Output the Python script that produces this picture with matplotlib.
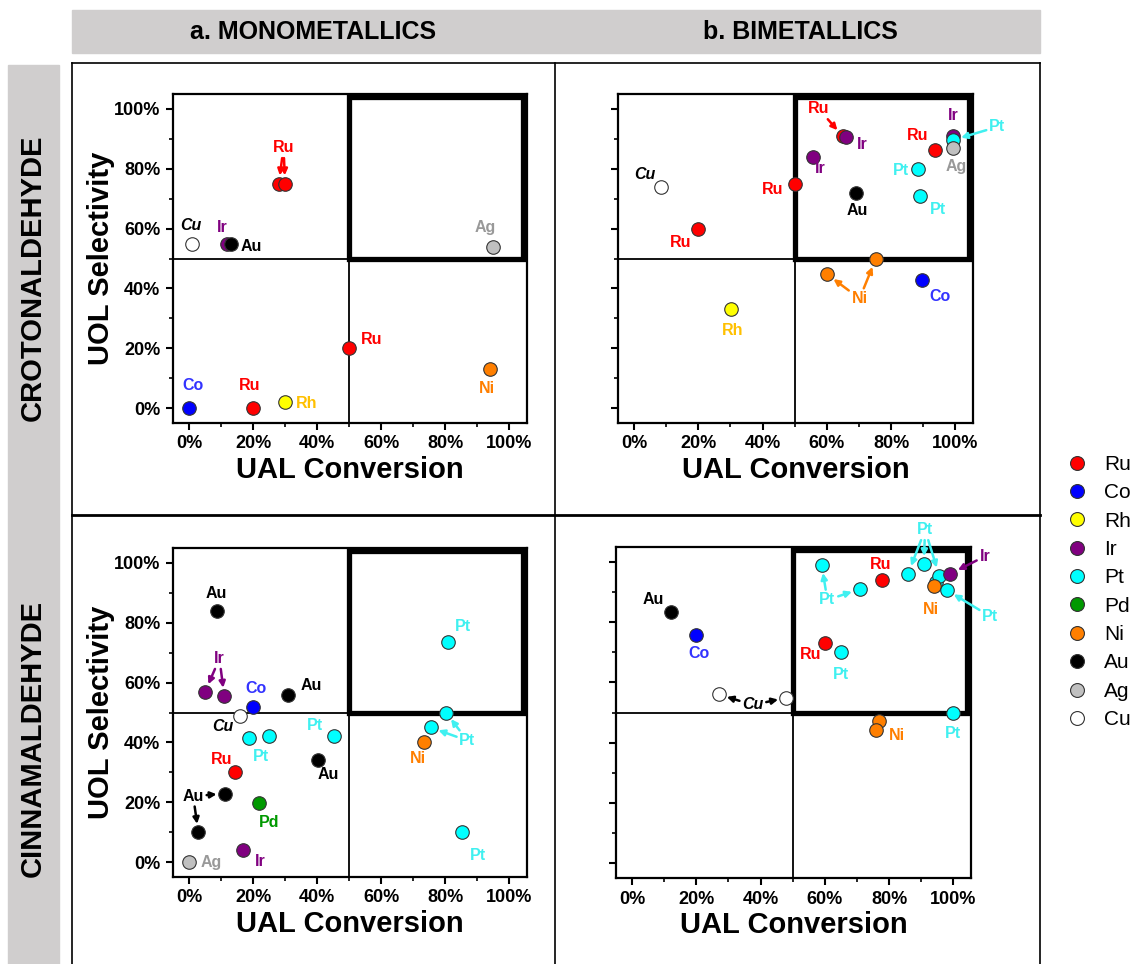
import matplotlib
matplotlib.use('Agg')
import matplotlib.pyplot as plt
from matplotlib.lines import Line2D
from matplotlib.patches import Rectangle

plt.rcParams['font.family'] = ['Liberation Sans', 'DejaVu Sans']

# Metals, legend order
metals = ['Ru', 'Co', 'Rh', 'Ir', 'Pt', 'Pd', 'Ni', 'Au', 'Ag', 'Cu']
face_colors = {'Ru': '#FF0000', 'Co': '#0000FF', 'Rh': '#FFFF00', 'Ir': '#800080',
               'Pt': '#00FFFF', 'Pd': '#009900', 'Ni': '#FF7F00', 'Au': '#000000',
               'Ag': '#C0C0C0', 'Cu': '#FFFFFF'}
text_colors = {'Ru': '#FF0000', 'Co': '#3333FF', 'Rh': '#FFC000', 'Ir': '#800080',
               'Pt': '#40F0F0', 'Pd': '#009900', 'Ni': '#FF7F00', 'Au': '#000000',
               'Ag': '#999999', 'Cu': '#000000'}

# a. monometallics / crotonaldehyde
cro_mono_metal = ['Ru', 'Ru', 'Cu', 'Ir', 'Au', 'Ag', 'Ru', 'Ni', 'Co', 'Ru', 'Rh']
cro_mono_conv = [28, 30, 1, 12, 13, 95, 50, 94, 0, 20, 30]
cro_mono_sel = [75, 75, 55, 55, 55, 54, 20, 13, 0, 0, 2]

# b. bimetallics / crotonaldehyde
cro_bi_metal = ['Cu', 'Ru', 'Ru', 'Ru', 'Ir', 'Ir', 'Au', 'Pt', 'Pt', 'Ru', 'Ir', 'Pt',
                'Ag', 'Ni', 'Ni', 'Co', 'Rh']
cro_bi_conv = [8.4, 20, 50.2, 65, 66, 55.7, 69, 88.4, 88.9, 93.7, 99.3, 99.3, 99.2,
               60, 75.2, 89.5, 30.1]
cro_bi_sel = [73.8, 59.8, 74.8, 90.8, 90.5, 84.1, 72, 80, 71, 86.4, 90.8, 89.6, 86.9,
              44.8, 49.8, 42.7, 33.2]

# a. monometallics / cinnamaldehyde
cin_mono_metal = ['Au', 'Ir', 'Ir', 'Co', 'Au', 'Cu', 'Pt', 'Pt', 'Pt', 'Au', 'Ru', 'Au',
                  'Au', 'Pd', 'Ir', 'Ag', 'Pt', 'Pt', 'Pt', 'Ni', 'Pt']
cin_mono_conv = [8.6, 5, 11, 20, 31, 15.9, 18.8, 25, 45.2, 40.2, 14.2, 11.2, 2.9, 21.9,
                 16.9, 0, 80.7, 80.2, 75.4, 73.2, 85.2]
cin_mono_sel = [83.8, 56.9, 55.5, 52, 56, 48.9, 41.4, 42, 42, 34, 30, 22.9, 10, 19.9,
                4, 0, 73.6, 50, 45, 40.1, 10]

# b. bimetallics / cinnamaldehyde
cin_bi_metal = ['Au', 'Co', 'Cu', 'Cu', 'Pt', 'Pt', 'Ru', 'Pt', 'Pt', 'Pt', 'Pt', 'Ir',
                'Ni', 'Pt', 'Ru', 'Pt', 'Pt', 'Ni', 'Ni']
cin_bi_conv = [12.1, 20, 27, 48, 59, 70.9, 77.8, 85.9, 90.8, 94.5, 95.6, 99.1, 93.9,
               97.9, 60, 65, 100, 76.8, 75.8]
cin_bi_sel = [83.3, 75.9, 56, 54.9, 99.1, 91, 94.1, 96.1, 99.2, 93.5, 95.5, 96.1, 92.1,
              90.7, 73.2, 70, 50, 47.3, 44.2]

# point labels: (metal, label x, label y, indices the arrows point to)
cro_mono_labels = [('Ru', 29.5, 87, [0, 1]), ('Cu', 0.5, 61, []), ('Ir', 10.5, 60.5, []),
                   ('Au', 19.5, 54, []), ('Ag', 92.5, 60.5, []), ('Ru', 57, 23, []),
                   ('Ni', 93, 6.5, []), ('Co', 1.2, 7.5, []), ('Ru', 18.8, 7.5, []),
                   ('Rh', 36.8, 1.5, [])]
cro_bi_labels = [('Cu', 3.4, 78, []), ('Ru', 14.5, 55.4, []), ('Ru', 43, 73, []),
                 ('Ru', 57.5, 100, [3]), ('Ir', 71, 88, []), ('Ir', 58, 80, []),
                 ('Au', 69.5, 66, []), ('Pt', 83, 79.5, []), ('Pt', 94.5, 66.5, []),
                 ('Ru', 88.3, 91.2, []), ('Ir', 99.4, 97.7, []), ('Pt', 113, 94, [11]),
                 ('Ag', 100.2, 80.7, []), ('Ni', 70.2, 36.6, [13, 14]),
                 ('Co', 95.3, 37.3, []), ('Rh', 30.8, 25.8, [])]
cin_mono_labels = [('Au', 8.6, 89.9, []), ('Ir', 9.5, 68, [1, 2]), ('Co', 20.8, 58, []),
                   ('Au', 38.2, 59, []), ('Cu', 10.5, 45.3, []), ('Pt', 22.3, 35.3, []),
                   ('Pt', 39.3, 45.8, []), ('Au', 43.4, 29.2, []), ('Ru', 10.2, 34.4, []),
                   ('Au', 1.3, 22, [11, 12]), ('Pd', 25.1, 13.3, []), ('Ir', 22.3, 0.3, []),
                   ('Ag', 7, 0, []), ('Pt', 85.6, 78.6, []), ('Pt', 86.9, 40.6, [17, 18]),
                   ('Ni', 71.5, 34.5, []), ('Pt', 90.2, 2.2, [])]
cin_bi_labels = [('Au', 6.5, 87.7, []), ('Co', 20.8, 69.5, []), ('Cu', 37.6, 52.5, [2, 3]),
                 ('Pt', 60.8, 87.4, [4, 5]), ('Ru', 77.3, 99.3, []),
                 ('Pt', 91.2, 110.7, [7, 8, 10]), ('Ir', 109.8, 101.9, [11]),
                 ('Ni', 93, 84.1, []), ('Pt', 111.5, 81.9, [13]), ('Ru', 55.5, 69.4, []),
                 ('Pt', 65, 62.5, []), ('Pt', 99.9, 43, []), ('Ni', 82.5, 42.5, [])]

W, H = 1144, 964


def fx(x):
    return x / W


def fy(y):
    return 1 - y / H


def draw_panel(ax, metal, conv, sel, labels, show_ylabel):
    ax.set_xlim(-5, 105.5)
    ax.set_ylim(-5, 105)
    ax.axvline(50, color='black', lw=1.3, zorder=1)
    ax.axhline(50, color='black', lw=1.3, zorder=1)
    ax.add_patch(Rectangle((50, 50), 54.3, 54, fill=False, lw=3.8, ec='black', zorder=1))

    for m, x, y in zip(metal, conv, sel):
        ax.scatter(x, y, s=95, c=face_colors[m], edgecolors='#333333', linewidths=0.8,
                   zorder=3, clip_on=False)

    for m, tx, ty, targets in labels:
        style = 'italic' if m == 'Cu' else 'normal'
        c = text_colors[m]
        ax.text(tx, ty, m, color=c, fontsize=11.5, fontweight='bold', style=style,
                ha='center', va='center', zorder=4)
        for i in targets:
            ax.annotate(m, xy=(conv[i], sel[i]), xytext=(tx, ty), color='none',
                        fontsize=11.5, fontweight='bold', style=style,
                        ha='center', va='center', annotation_clip=False,
                        arrowprops=dict(arrowstyle='-|>', color=c, lw=1.8,
                                        mutation_scale=9, shrinkA=0, shrinkB=6),
                        zorder=4)

    ax.set_xticks(range(0, 101, 20))
    ax.set_xticks(range(0, 101, 10), minor=True)
    ax.set_yticks(range(0, 101, 20))
    ax.set_yticks(range(0, 101, 10), minor=True)
    ax.set_xticklabels([f'{v}%' for v in range(0, 101, 20)], fontsize=13, fontweight='bold')
    if show_ylabel:
        ax.set_yticklabels([f'{v}%' for v in range(0, 101, 20)], fontsize=13,
                           fontweight='bold')
        ax.set_ylabel('UOL Selectivity', fontsize=21, fontweight='bold')
        ax.yaxis.set_label_coords(-0.165, 0.5)
    else:
        ax.set_yticklabels([])
    ax.set_xlabel('UAL Conversion', fontsize=21, fontweight='bold')
    ax.xaxis.set_label_coords(0.5, -0.1)
    ax.tick_params(which='major', length=5, width=1.5, pad=4)
    ax.tick_params(which='minor', length=3, width=1.2)
    for sp in ax.spines.values():
        sp.set_linewidth(1.6)


fig = plt.figure(figsize=(W / 100, H / 100), dpi=100)

# grey header bands
fig.add_artist(Rectangle((fx(72), fy(53)), fx(1040) - fx(72), fy(10) - fy(53),
                         transform=fig.transFigure, color='#D0CECE', zorder=0))
fig.add_artist(Rectangle((fx(8), 0), fx(59) - fx(8), fy(65),
                         transform=fig.transFigure, color='#D0CECE', zorder=0))
fig.text(fx(313), fy(32), 'a. MONOMETALLICS', fontsize=18, fontweight='bold',
         ha='center', va='center')
fig.text(fx(800), fy(32), 'b. BIMETALLICS', fontsize=18, fontweight='bold',
         ha='center', va='center')
fig.text(fx(33), fy(278), 'CROTONALDEHYDE', fontsize=21, fontweight='bold',
         rotation=90, ha='center', va='center')
fig.text(fx(33), fy(738), 'CINNAMALDEHYDE', fontsize=21, fontweight='bold',
         rotation=90, ha='center', va='center')

# outer panel frame
for x in (72, 555, 1040):
    fig.add_artist(Line2D([fx(x), fx(x)], [0, fy(63)], transform=fig.transFigure,
                          color='black', lw=1.2))
fig.add_artist(Line2D([fx(72), fx(1040)], [fy(63), fy(63)], transform=fig.transFigure,
                      color='black', lw=1.2))
fig.add_artist(Line2D([fx(72), fx(1040)], [fy(515), fy(515)], transform=fig.transFigure,
                      color='black', lw=2))

ax1 = fig.add_axes([fx(173), fy(423), fx(527) - fx(173), fy(94) - fy(423)])
ax2 = fig.add_axes([fx(618), fy(423), fx(973) - fx(618), fy(94) - fy(423)])
ax3 = fig.add_axes([fx(173), fy(877), fx(527) - fx(173), fy(548) - fy(877)])
ax4 = fig.add_axes([fx(616), fy(878), fx(971) - fx(616), fy(547) - fy(878)])

draw_panel(ax1, cro_mono_metal, cro_mono_conv, cro_mono_sel, cro_mono_labels, True)
draw_panel(ax2, cro_bi_metal, cro_bi_conv, cro_bi_sel, cro_bi_labels, False)
draw_panel(ax3, cin_mono_metal, cin_mono_conv, cin_mono_sel, cin_mono_labels, True)
draw_panel(ax4, cin_bi_metal, cin_bi_conv, cin_bi_sel, cin_bi_labels, False)

handles = [Line2D([], [], marker='o', ls='', markersize=10, markerfacecolor=face_colors[m],
                  markeredgecolor='#333333', markeredgewidth=0.8, label=m) for m in metals]
fig.legend(handles=handles, loc='center left', bbox_to_anchor=(fx(1058), fy(592)),
           frameon=False, fontsize=15, handlelength=1, handletextpad=0.8,
           labelspacing=0.45, borderaxespad=0)

fig.savefig('out.png', dpi=100)
